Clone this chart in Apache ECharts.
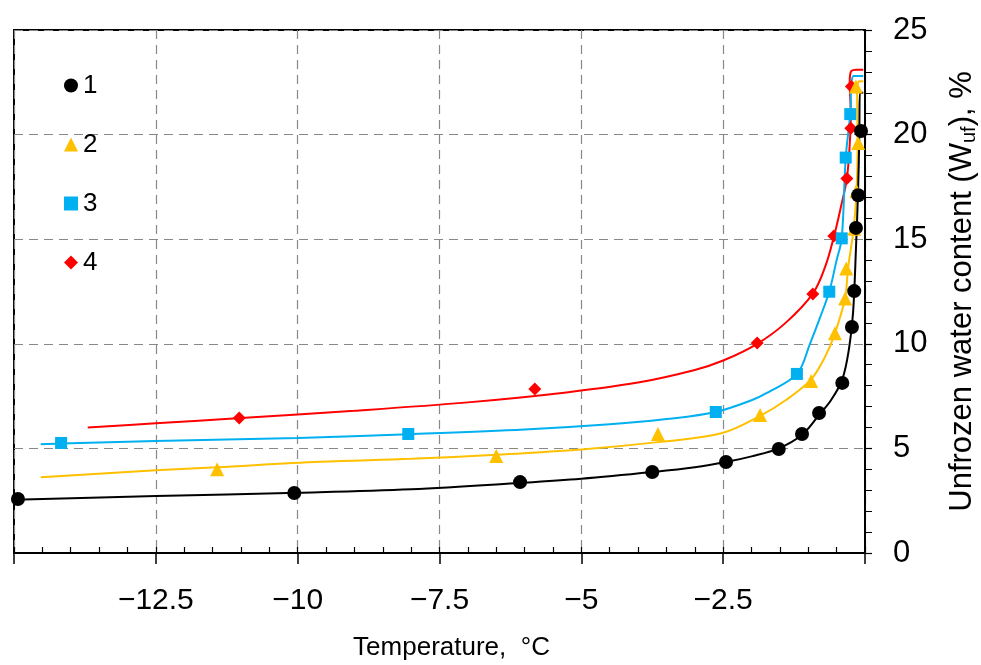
<!DOCTYPE html>
<html>
<head>
<meta charset="utf-8">
<title>Unfrozen water content</title>
<script src="https://cdn.jsdelivr.net/npm/echarts@6/dist/echarts.min.js"></script>
<style>
  html, body { margin: 0; padding: 0; background: #fff; }
  #chart { width: 981px; height: 665px; }
</style>
</head>
<body>
<div id="chart"></div>
<script>
  // measured points  [temperature, Wuf]
  var points1 = [[-14.93, 2.58], [-10.06, 2.87], [-6.08, 3.39], [-3.75, 3.87], [-2.45, 4.35], [-1.52, 4.97],
    [-1.11, 5.69], [-0.81, 6.69], [-0.4, 8.13], [-0.23, 10.8], [-0.19, 12.52], [-0.16, 15.54], [-0.12, 17.1], [-0.07, 20.17]];
  var points2 = [[-11.42, 4.0], [-6.5, 4.64], [-3.65, 5.69], [-1.85, 6.6], [-0.95, 8.22], [-0.53, 10.5],
    [-0.35, 12.17], [-0.33, 13.6], [-0.19, 15.5], [-0.15, 17.3], [-0.12, 19.6], [-0.16, 22.3]];
  var points3 = [[-14.17, 5.26], [-8.05, 5.69], [-2.63, 6.74], [-1.2, 8.56], [-0.63, 12.49], [-0.41, 15.04],
    [-0.34, 18.9], [-0.26, 20.98]];
  var points4 = [[-11.03, 6.45], [-5.82, 7.84], [-1.9, 10.04], [-0.92, 12.38], [-0.55, 15.15], [-0.32, 17.9],
    [-0.25, 20.3], [-0.24, 22.3]];

  // fitted curves
  var curve1 = [[-15, 2.55], [-12.5, 2.72], [-10, 2.88], [-8, 3.05], [-6.08, 3.35], [-5, 3.55], [-3.75, 3.87],
    [-3, 4.1], [-2.45, 4.35], [-2, 4.62], [-1.52, 5.0], [-1.11, 5.65], [-0.81, 6.6], [-0.6, 7.3], [-0.4, 8.3],
    [-0.28, 9.8], [-0.21, 11.5], [-0.16, 14.5], [-0.12, 17.5], [-0.1, 20], [-0.09, 22.0], [-0.03, 22.0]];
  var curve2 = [[-14.53, 3.62], [-12.5, 3.95], [-11.42, 4.1], [-9.6, 4.36], [-8, 4.5], [-6.5, 4.7], [-5, 4.95],
    [-3.65, 5.3], [-2.53, 5.72], [-1.85, 6.55], [-1.4, 7.3], [-0.95, 8.3], [-0.7, 9.4], [-0.53, 10.5],
    [-0.35, 12.2], [-0.3, 13.6], [-0.2, 15.5], [-0.15, 17.3], [-0.13, 19.5], [-0.14, 22.2], [-0.1, 22.55], [-0.03, 22.55]];
  var curve3 = [[-14.53, 5.2], [-14.17, 5.24], [-12.5, 5.35], [-10, 5.5], [-8.05, 5.68], [-6, 5.9], [-4.5, 6.15],
    [-3.5, 6.4], [-2.63, 6.74], [-2, 7.3], [-1.73, 7.65], [-1.2, 8.56], [-0.97, 10.0], [-0.8, 11.2], [-0.63, 12.5],
    [-0.5, 14], [-0.41, 15.04], [-0.34, 18.9], [-0.26, 21], [-0.24, 22.4], [-0.2, 22.8], [-0.03, 22.8]];
  var curve4 = [[-13.7, 6.0], [-12.5, 6.2], [-11, 6.45], [-9, 6.8], [-7, 7.2], [-5.5, 7.6], [-4, 8.15], [-3, 8.75],
    [-2.5, 9.2], [-1.9, 10.0], [-1.4, 11.0], [-0.92, 12.4], [-0.7, 13.7], [-0.55, 15.1], [-0.42, 16.6],
    [-0.32, 17.9], [-0.27, 19.5], [-0.25, 21], [-0.27, 22.5], [-0.25, 23.0], [-0.15, 23.1], [-0.03, 23.1]];

  var seriesNames = ['1', '2', '3', '4'];
  var colors = ['#000000', '#FFC000', '#00B0F0', '#FF0000'];
  var symbols = ['circle', 'triangle', 'rect', 'diamond'];
  var symbolSizes = [14, 14, 12, 13];

  var xTicks = [-15, -12.5, -10, -7.5, -5, -2.5, 0];

  var font = '"Liberation Sans", Arial, sans-serif';
  var chart = echarts.init(document.getElementById('chart'));

  var points = [points1, points2, points3, points4];
  var curves = [curve1, curve2, curve3, curve4];
  var series = [];

  // lines first (red on the bottom), markers afterwards
  for (var i = 3; i >= 0; i--) {
    series.push({
      type: 'line',
      data: curves[i],
      smooth: 0.35,
      showSymbol: false,
      silent: true,
      lineStyle: {color: colors[i], width: 2},
      z: 2
    });
  }
  for (var j = 3; j >= 0; j--) {
    series.push({
      name: seriesNames[j],
      type: 'scatter',
      data: points[j],
      symbol: symbols[j],
      symbolSize: symbolSizes[j],
      itemStyle: {color: colors[j], opacity: 1},
      clip: false,
      z: 3
    });
  }

  chart.setOption({
    animation: false,
    backgroundColor: '#fff',
    grid: {
      left: 14, right: 116, top: 30, bottom: 112,
      outerBoundsMode: 'none',
      show: true, borderColor: '#000', borderWidth: 2
    },
    legend: {
      data: seriesNames,
      orient: 'vertical',
      left: 59,
      top: 67,
      itemWidth: 14,
      itemHeight: 14,
      itemGap: 32,
      textStyle: {fontSize: 26, fontFamily: font, color: '#000', lineHeight: 27}
    },
    xAxis: [{
      type: 'value',
      min: -15,
      max: 0,
      interval: 2.5,
      position: 'bottom',
      name: 'Temperature,  °C',
      nameLocation: 'middle',
      nameGap: 82,
      nameTextStyle: {fontSize: 26, fontFamily: font, color: '#000', padding: [0, 0, 0, 24]},
      axisLine: {lineStyle: {color: '#000', width: 2}},
      axisTick: {show: true, length: 11, lineStyle: {color: '#000', width: 1.5}},
      axisLabel: {
        fontSize: 30, fontFamily: font, color: '#000', margin: 33,
        formatter: function (v) {
          if (v === xTicks[0] || v === xTicks[xTicks.length - 1]) return '';
          return String(v).replace('-', '\u2212');
        }
      },
      splitLine: {show: true, lineStyle: {color: '#888', type: [9, 6], width: 1.2}}
    }, {
      // small inner ticks every 0.5 degree
      type: 'value',
      min: -15,
      max: 0,
      interval: 0.5,
      position: 'bottom',
      axisLine: {show: false},
      axisTick: {show: true, inside: true, length: 6, lineStyle: {color: '#000', width: 1.2}},
      axisLabel: {show: false},
      splitLine: {show: false}
    }],
    yAxis: {
      type: 'value',
      position: 'right',
      min: 0,
      max: 25,
      interval: 5,
      name: '{a|Unfrozen water content (W}{b|uf}{a|), %}',
      nameLocation: 'middle',
      nameRotate: 90,
      nameGap: 80,
      nameTextStyle: {
        rich: {
          a: {fontSize: 31, fontFamily: font, color: '#000', lineHeight: 34},
          b: {fontSize: 20, fontFamily: font, color: '#000', lineHeight: 20, verticalAlign: 'bottom'}
        }
      },
      axisLine: {lineStyle: {color: '#000', width: 2}},
      axisTick: {show: true, length: 7, lineStyle: {color: '#000', width: 1.2}},
      minorTick: {show: true, splitNumber: 5, length: 7, lineStyle: {color: '#000', width: 1}},
      axisLabel: {fontSize: 31, fontFamily: font, color: '#000', margin: 28},
      splitLine: {show: true, lineStyle: {color: '#888', type: [9, 6], width: 1.2}}
    },
    series: series
  });
</script>
</body>
</html>
